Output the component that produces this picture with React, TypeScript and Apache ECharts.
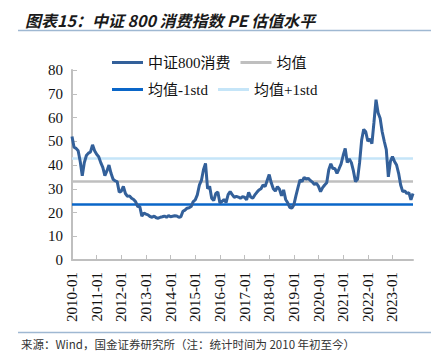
import React, { useEffect, useRef } from "react";
import * as echarts from "echarts";

const startYear = 2010;
const monthCount = 167; // 2010-01 .. 2023-11
const months: string[] = [];
for (let i = 0; i < monthCount; i++) {
  const y = startYear + Math.floor(i / 12);
  const m = (i % 12) + 1;
  months.push(`${y}-${m < 10 ? "0" + m : m}`);
}

const peValues = [
  52, 47.5, 47, 46, 41.5, 35.5, 41, 44, 45, 45.5, 48.5, 46,
  44.5, 43.5, 41, 39, 35.5, 37.5, 40, 36.5, 34, 33.3, 33, 28.5,
  29, 31, 28, 26.8, 27, 26, 25.5, 24.5, 22.5, 22.5, 18.5, 19.8,
  19.3, 19, 18.3, 18, 18.5, 17.8, 17.6, 18, 18.2, 18.5, 18, 18.7,
  18.2, 18.4, 18.6, 18.5, 18, 18.2, 20.5, 21, 21.8, 22, 22.5, 24.6,
  25.3, 27.4, 31.5, 33.5, 38, 40.7, 30, 31, 26, 25, 28, 28.6,
  24, 24.6, 25.5, 24.2, 27.5, 28.8, 27.5, 26.4, 26.8, 26.5, 26, 26.6,
  26.4, 25.3, 28.5, 26.5, 26, 27.4, 28.5, 29.5, 30, 31.6, 30.9, 33.5,
  36, 32.5, 30, 29, 30.9, 29.8, 27, 29.5, 25.5, 24.1, 22.2, 21.8,
  23.2, 27, 30.5, 33.7, 33, 34.8, 34, 34.4, 33.5, 32.8, 31.8, 32.3,
  31, 28.8, 30.5, 31.6, 32.5, 38, 40.5, 38.5, 38.5, 36.5, 38.4, 40.5,
  44, 47, 41, 42.5, 41, 37.5, 33, 34, 41, 50.5, 55, 54,
  50, 51, 49, 58, 67.5, 62, 59.7, 54, 50, 46.5, 35, 41.5,
  43.5, 41.5, 40, 36.5, 31.6, 28.8, 29.1, 28, 28.4, 25.3, 28,
];

const meanValue = 33;
const meanMinusStd = 23.3;
const meanPlusStd = 42.7;

const yTicks = [0, 10, 20, 30, 40, 50, 60, 70, 80];

const serif = "'Times New Roman', 'Liberation Serif', 'Noto Sans CJK SC', serif";

export default function App() {
  const ref = useRef<HTMLDivElement>(null);
  useEffect(() => {
    if (!ref.current) return;
    const chart = echarts.init(ref.current, undefined, { renderer: "svg" });
    const refLine = (name: string, value: number, color: string, z: number) => ({
      name,
      type: "line",
      data: [],
      color,
      z,
      lineStyle: { color, width: 2.5 },
      markLine: {
        silent: true,
        symbol: ["none", "none"],
        label: { show: false },
        lineStyle: { color, width: 2.5, type: "solid" },
        data: [{ yAxis: value }],
        z,
      },
    });
    chart.setOption({
      animation: false,
      backgroundColor: "#ffffff",
      title: {
        text: "图表15：中证 800 消费指数 PE 估值水平",
        left: 20,
        top: 7,
        textStyle: {
          fontFamily: "'Noto Sans CJK SC', sans-serif",
          fontSize: 16,
          fontWeight: "bold",
          fontStyle: "italic",
          color: "#1a1a1a",
        },
      },
      graphic: [
        {
          type: "line",
          shape: { x1: 18, y1: 30.5, x2: 439, y2: 30.5 },
          style: { stroke: "#9fb8d2", lineWidth: 1.5 },
        },
        {
          type: "line",
          shape: { x1: 18, y1: 332.5, x2: 439, y2: 332.5 },
          style: { stroke: "#9fb8d2", lineWidth: 1.5 },
        },
        {
          type: "text",
          left: 21,
          top: 338,
          style: {
            text: "来源：Wind，国金证券研究所（注：统计时间为 2010 年初至今）",
            font: "11.5px 'Noto Sans CJK SC', sans-serif",
            fill: "#333333",
          },
        },
      ],
      legend: [
        {
          data: ["中证800消费", "均值"],
          left: 107,
          top: 50,
          icon: "rect",
          itemWidth: 31,
          itemHeight: 3,
          itemGap: 10,
          textStyle: { fontFamily: serif, fontSize: 15, color: "#111111", width: 82 },
        },
        {
          data: ["均值-1std", "均值+1std"],
          left: 107,
          top: 77,
          icon: "rect",
          itemWidth: 31,
          itemHeight: 3,
          itemGap: 10,
          textStyle: { fontFamily: serif, fontSize: 15, color: "#111111", width: 82 },
        },
      ],
      grid: { left: 72, right: 26, top: 70, bottom: 102, containLabel: false },
      xAxis: {
        type: "category",
        data: months,
        boundaryGap: false,
        axisLine: { lineStyle: { color: "#bfbfbf", width: 2 } },
        axisTick: { inside: true, interval: 11, length: 5, lineStyle: { color: "#bfbfbf" } },
        axisLabel: {
          interval: 11,
          rotate: 90,
          margin: 12,
          fontFamily: serif,
          fontSize: 15,
          color: "#111111",
        },
        splitLine: { show: false },
      },
      yAxis: {
        type: "value",
        min: yTicks[0],
        max: yTicks[yTicks.length - 1],
        interval: 10,
        axisLine: { show: true, lineStyle: { color: "#bfbfbf", width: 2 } },
        axisTick: { show: true, inside: true, length: 5, lineStyle: { color: "#bfbfbf" } },
        axisLabel: { fontFamily: serif, fontSize: 15, color: "#111111", margin: 9 },
        splitLine: { show: false },
      },
      series: [
        {
          name: "中证800消费",
          type: "line",
          data: peValues,
          color: "#33609a",
          symbol: "none",
          z: 5,
          lineStyle: { color: "#33609a", width: 3 },
        },
        refLine("均值", meanValue, "#bfbfbf", 2),
        refLine("均值-1std", meanMinusStd, "#0a66c8", 2),
        refLine("均值+1std", meanPlusStd, "#c5e5f8", 2),
      ],
    });
    return () => chart.dispose();
  }, []);
  return <div ref={ref} style={{ width: 439, height: 362, margin: -8 }} />;
}
